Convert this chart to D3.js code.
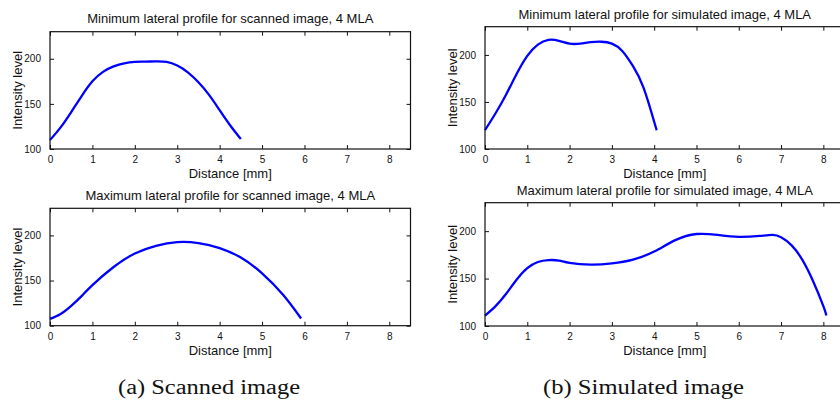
<!DOCTYPE html>
<html>
<head>
<meta charset="utf-8">
<script src="https://cdn.jsdelivr.net/npm/d3@7"></script>
<style>
  html, body { margin: 0; padding: 0; background: #fff; }
  svg { display: block; }
  text { font-family: "Liberation Sans", Arial, sans-serif; fill: #111; }
  text.caption { font-family: "Liberation Serif", "Times New Roman", serif; }
</style>
</head>
<body>
<svg id="fig" width="840" height="401"></svg>
<script>
// Lateral intensity profiles (distance in mm, intensity level)
const scannedMinX = [0, 0.25, 0.5, 0.75, 1, 1.25, 1.5, 1.75, 2, 2.25, 2.5, 2.75, 3, 3.25, 3.5, 3.75, 4, 4.25, 4.5];
const scannedMinY = [110, 124, 141, 159, 175, 185.5, 191.5, 195, 196.5, 196.8, 197.2, 196.5, 192.5, 185, 174, 160, 143, 126, 111];

const scannedMaxX = [0, 0.25, 0.5, 0.75, 1, 1.5, 2, 2.5, 3, 3.5, 4, 4.5, 5, 5.5, 5.92];
const scannedMaxY = [107.5, 113, 122, 133, 145, 165, 180, 188.5, 192.5, 191.5, 186, 175.5, 158, 134, 108];

const simMinX = [0, 0.25, 0.5, 0.75, 1, 1.25, 1.5, 1.75, 2, 2.25, 2.5, 2.75, 3, 3.25, 3.5, 3.75, 4, 4.06];
const simMinY = [120, 138, 158, 180, 199, 211, 216, 215, 212, 212, 213.5, 214, 212, 204, 188, 165, 129, 120];

const simMaxX = [0, 0.25, 0.5, 0.75, 1, 1.25, 1.5, 1.75, 2, 2.5, 3, 3.5, 4, 4.5, 5, 5.5, 6, 6.5, 6.8, 7, 7.25, 7.5, 7.75, 8, 8.07];
const simMaxY = [111, 121, 134, 149, 161, 167.5, 169.5, 169, 166.5, 164.7, 166, 170, 178.5, 190.5, 197, 196, 194, 195, 196, 193.5, 185, 170, 148, 121, 111];

// Axis settings and text
const xDomain = [0, 8.5];
const yDomain = [100, 230];
const xTickValues = [0, 1, 2, 3, 4, 5, 6, 7, 8];
const yTickValues = [100, 150, 200];
const titles = [
  "Minimum lateral profile for scanned image, 4 MLA",
  "Maximum lateral profile for scanned image, 4 MLA",
  "Minimum lateral profile for simulated image, 4 MLA",
  "Maximum lateral profile for simulated image, 4 MLA"
];
const xLabel = "Distance [mm]";
const yLabel = "Intensity level";
const captions = ["(a) Scanned image", "(b) Simulated image"];

// Panel layout (pixel boxes of the four axes)
const panels = [
  { xs: scannedMinX, ys: scannedMinY, title: titles[0], left: 50,  right: 410.5, top: 31.7,  bottom: 149,   titleY: 18.3 },
  { xs: scannedMaxX, ys: scannedMaxY, title: titles[1], left: 50,  right: 410.5, top: 208.3, bottom: 325.7, titleY: 195 },
  { xs: simMinX,     ys: simMinY,     title: titles[2], left: 485, right: 844.5, top: 26.7,  bottom: 149,   titleY: 14 },
  { xs: simMaxX,     ys: simMaxY,     title: titles[3], left: 485, right: 844.5, top: 202.7, bottom: 326,   titleY: 190 }
];

const svg = d3.select("#fig");
const tickLen = 4;

panels.forEach(p => {
  const x = d3.scaleLinear().domain(xDomain).range([p.left, p.right]);
  const y = d3.scaleLinear().domain(yDomain).range([p.bottom, p.top]);
  const g = svg.append("g");

  // data curve (smooth spline through the samples)
  const pts = p.xs.map((v, i) => [v, p.ys[i]]);
  g.append("path")
    .datum(pts)
    .attr("fill", "none")
    .attr("stroke", "#0000ff")
    .attr("stroke-width", 2.3)
    .attr("stroke-linejoin", "round")
    .attr("d", d3.line().x(d => x(d[0])).y(d => y(d[1])).curve(d3.curveNatural));

  // bottom axis with inward ticks
  const bottom = g.append("g").attr("transform", `translate(0,${p.bottom})`)
    .call(d3.axisBottom(x).tickValues(xTickValues).tickSizeInner(-tickLen).tickSizeOuter(0).tickPadding(7));
  // top axis: ticks only
  const top = g.append("g").attr("transform", `translate(0,${p.top})`)
    .call(d3.axisTop(x).tickValues(xTickValues).tickSizeInner(-tickLen).tickSizeOuter(0).tickFormat(""));
  // left axis with inward ticks
  const left = g.append("g").attr("transform", `translate(${p.left},0)`)
    .call(d3.axisLeft(y).tickValues(yTickValues).tickSizeInner(-tickLen).tickSizeOuter(0).tickPadding(9));
  // right axis: ticks only
  const right = g.append("g").attr("transform", `translate(${p.right},0)`)
    .call(d3.axisRight(y).tickValues(yTickValues).tickSizeInner(-tickLen).tickSizeOuter(0).tickFormat(""));

  [bottom, top, left, right].forEach(a => {
    a.select(".domain").remove();
    a.selectAll(".tick line").attr("stroke", "#111").attr("stroke-width", 1);
    a.selectAll(".tick text").attr("font-size", 10).attr("fill", "#111")
      .attr("font-family", "Liberation Sans, Arial, sans-serif");
  });

  // axes box
  g.append("rect")
    .attr("x", p.left).attr("y", p.top)
    .attr("width", p.right - p.left).attr("height", p.bottom - p.top)
    .attr("fill", "none").attr("stroke", "#111").attr("stroke-width", 1.2);

  // title
  g.append("text")
    .attr("x", (p.left + p.right) / 2).attr("y", p.titleY).attr("dy", "0.35em")
    .attr("text-anchor", "middle").attr("font-size", 13)
    .text(p.title);

  // x label
  g.append("text")
    .attr("x", (p.left + p.right) / 2).attr("y", p.bottom + 24.3).attr("dy", "0.35em")
    .attr("text-anchor", "middle").attr("font-size", 13)
    .text(xLabel);

  // y label
  const cy = (p.top + p.bottom) / 2;
  const lx = p.left - 33;
  g.append("text")
    .attr("transform", `translate(${lx},${cy}) rotate(-90)`)
    .attr("dy", "0.35em")
    .attr("text-anchor", "middle").attr("font-size", 13)
    .text(yLabel);
});

// sub-figure captions
const captionPos = [[209, 386.7, 182], [643.5, 386.7, 201]];
captions.forEach((c, i) => {
  svg.append("text")
    .attr("class", "caption")
    .attr("x", captionPos[i][0]).attr("y", captionPos[i][1]).attr("dy", "0.35em")
    .attr("text-anchor", "middle").attr("font-size", 20)
    .attr("textLength", captionPos[i][2]).attr("lengthAdjust", "spacingAndGlyphs")
    .text(c);
});
</script>
</body>
</html>
